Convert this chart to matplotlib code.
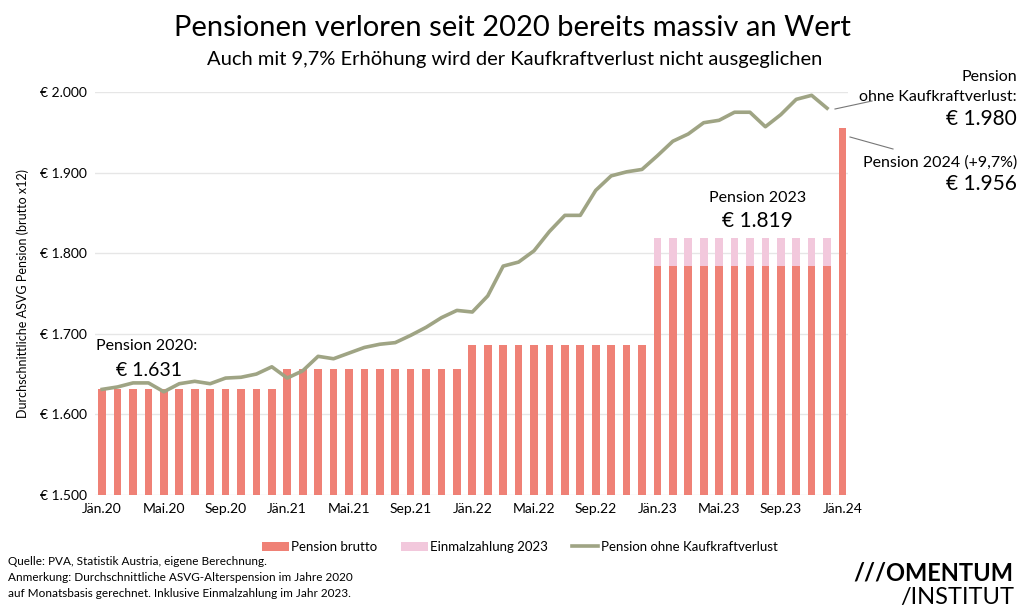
import matplotlib
matplotlib.use("Agg")
import matplotlib.pyplot as plt
import numpy as np

plt.rcParams['font.family'] = ['Lato', 'DejaVu Sans']

months = ['Jän', 'Feb', 'Mär', 'Apr', 'Mai', 'Jun', 'Jul', 'Aug', 'Sep', 'Okt', 'Nov', 'Dez']
labels = [f'{m}.{y}' for y in ['20', '21', '22', '23'] for m in months] + ['Jän.24']

# Pension brutto per month (x12 basis)
brutto = [1631] * 12 + [1656] * 12 + [1686] * 12 + [1784] * 12 + [1956]
# one-off payment 2023, stacked on top
einmal = [0] * 36 + [35] * 12 + [0]
# pension without loss of purchasing power (Jan 20 - Dez 23)
ohne_verlust = [1631, 1634, 1639, 1639, 1628, 1638, 1641, 1638, 1645, 1646, 1650, 1659,
                1645, 1654, 1672, 1669, 1676, 1683, 1687, 1689, 1698, 1708, 1720, 1729,
                1727, 1747, 1784, 1789, 1803, 1827, 1847, 1847, 1878, 1896, 1901, 1904,
                1921, 1939, 1948, 1962, 1965, 1975, 1975, 1957, 1972, 1991, 1996, 1980]

c_bar = '#ef8176'
c_pink = '#f2c8dc'
c_line = '#9fa484'

fig = plt.figure(figsize=(10.24, 6.14), dpi=100)
ax = fig.add_axes([0.093, 0.194, 0.735, 0.656])

x = np.arange(len(brutto))
b1 = ax.bar(x, brutto, width=0.5, color=c_bar, zorder=2, label='Pension brutto')
b2 = ax.bar(x, einmal, bottom=brutto, width=0.5, color=c_pink, zorder=2, label='Einmalzahlung 2023')
l1, = ax.plot(np.arange(len(ohne_verlust)), ohne_verlust, color=c_line, lw=2.6, zorder=3,
              label='Pension ohne Kaufkraftverlust')

ax.set_ylim(1500, 2000)
ax.set_xlim(-0.45, 48.35)
yt = [1500, 1600, 1700, 1800, 1900, 2000]
ax.set_yticks(yt)
ax.set_yticklabels(['€ ' + f'{v:,}'.replace(',', '.') for v in yt], fontsize=10)
ax.set_xticks(x[::4])
ax.set_xticklabels(labels[::4], fontsize=10)
ax.tick_params(length=0, pad=6)
ax.grid(axis='y', color='#e6e6e6', lw=1, zorder=0)
for s in ax.spines.values():
    s.set_visible(False)
ax.set_ylabel('Durchschnittliche ASVG Pension (brutto x12)', fontsize=9, labelpad=8)

fig.text(0.5, 0.955, 'Pensionen verloren seit 2020 bereits massiv an Wert',
         ha='center', va='center', fontsize=21)
fig.text(0.503, 0.903, 'Auch mit 9,7% Erhöhung wird der Kaufkraftverlust nicht ausgeglichen',
         ha='center', va='center', fontsize=14.5)

# annotations
ax.text(-0.4, 1685, 'Pension 2020:', fontsize=11.5, ha='left', va='center')
ax.text(0.9, 1654, '€ 1.631', fontsize=14, ha='left', va='center')
ax.text(42.5, 1868, 'Pension 2023', fontsize=11.5, ha='center', va='center')
ax.text(42.5, 1840, '€ 1.819', fontsize=15, ha='center', va='center')

fig.text(0.993, 0.875, 'Pension', ha='right', va='center', fontsize=11.5)
fig.text(0.993, 0.842, 'ohne Kaufkraftverlust:', ha='right', va='center', fontsize=11.5)
fig.text(0.993, 0.806, '€ 1.980', ha='right', va='center', fontsize=15)
fig.text(0.993, 0.736, 'Pension 2024 (+9,7%)', ha='right', va='center', fontsize=11.5)
fig.text(0.993, 0.700, '€ 1.956', ha='right', va='center', fontsize=15)
fig.add_artist(plt.Line2D([835 / 1024, 872 / 1024], [1 - 109 / 614, 1 - 101 / 614],
                          color='#777777', lw=0.8))
fig.add_artist(plt.Line2D([850 / 1024, 893 / 1024], [1 - 137 / 614, 1 - 149 / 614],
                          color='#777777', lw=0.8))

fig.legend([b1, b2, l1], ['Pension brutto', 'Einmalzahlung 2023', 'Pension ohne Kaufkraftverlust'],
           loc='center', bbox_to_anchor=(0.508, 0.109), ncol=3, frameon=False,
           fontsize=9.5, handlelength=2.0, handleheight=0.7, columnspacing=1.8,
           handletextpad=0.2)

fig.text(0.008, 0.085, 'Quelle: PVA, Statistik Austria, eigene Berechnung.', fontsize=8.5, va='center')
fig.text(0.008, 0.059, 'Anmerkung: Durchschnittliche ASVG-Alterspension im Jahre 2020',
         fontsize=8.5, va='center')
fig.text(0.008, 0.033, 'auf Monatsbasis gerechnet. Inklusive Einmalzahlung im Jahr 2023.',
         fontsize=8.5, va='center')

fig.text(0.990, 0.067, '///OMENTUM', ha='right', va='center', fontsize=17, fontweight='bold')
fig.text(0.990, 0.027, '/INSTITUT', ha='right', va='center', fontsize=17)

fig.savefig('out.png', dpi=100, facecolor='white')
